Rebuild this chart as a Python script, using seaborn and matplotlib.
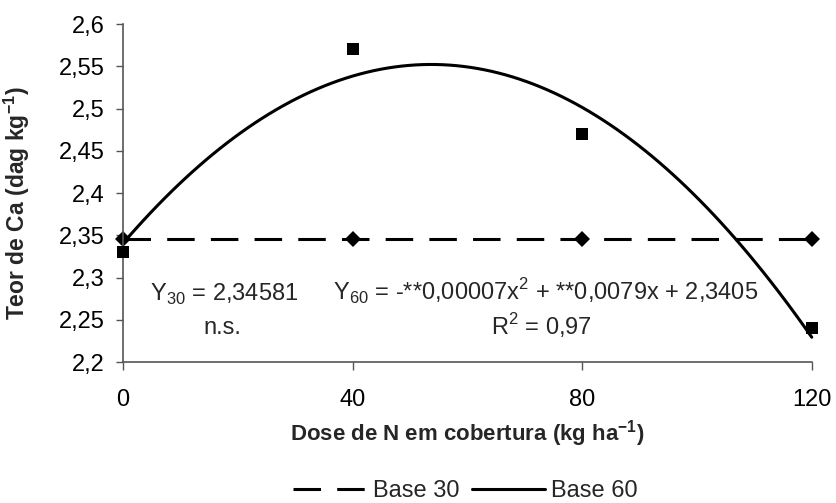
import numpy as np
import pandas as pd
import matplotlib
matplotlib.use("Agg")
import matplotlib.pyplot as plt
import seaborn as sns
from matplotlib.lines import Line2D
from matplotlib.ticker import FuncFormatter

# Nitrogen top-dressing doses (kg/ha)
doses = [0, 40, 80, 120]
# Ca content (dag/kg) for each base saturation level
base30 = [2.34581, 2.34581, 2.34581, 2.34581]
base60 = [2.33, 2.57, 2.47, 2.24]

x_ticks = [0, 40, 80, 120]
y_ticks = [2.2, 2.25, 2.3, 2.35, 2.4, 2.45, 2.5, 2.55, 2.6]

df = pd.DataFrame({"dose": doses, "b30": base30, "b60": base60})

sns.set_theme(style="white")
plt.rcParams["font.family"] = ["Liberation Sans", "DejaVu Sans"]
plt.rcParams["mathtext.fontset"] = "custom"
plt.rcParams["mathtext.rm"] = "Liberation Sans"

fig = plt.figure(figsize=(8.36, 5.03), dpi=100)
ax = fig.add_axes([0.147, 0.280, 0.824, 0.672])

axis_col = "#555555"
dash = (9, 5.3)

# Base 30: constant mean line with diamond markers
sns.lineplot(data=df, x="dose", y="b30", ax=ax, color="black", lw=2.2,
             marker="D", markersize=8.5, markeredgewidth=0, legend=False)
ax.lines[-1].set_dashes(dash)

# Base 60: observed points and quadratic trend
sns.scatterplot(data=df, x="dose", y="b60", ax=ax, color="black", marker="s",
                s=75, linewidth=0, legend=False, zorder=4)
sns.regplot(data=df, x="dose", y="b60", order=2, ci=None, scatter=False,
            ax=ax, truncate=True, line_kws={"color": "black", "lw": 2.2})

ax.set_xlim(0, 120)
ax.set_ylim(2.2, 2.6)
ax.set_xticks(x_ticks)
ax.set_yticks(y_ticks)
ax.yaxis.set_major_formatter(FuncFormatter(lambda v, p: f"{v:g}".replace(".", ",")))
ax.tick_params(axis="both", colors=axis_col, labelcolor="black",
               width=1, direction="out", bottom=True, left=True)
ax.tick_params(axis="y", labelsize=17, length=5, pad=8)
ax.tick_params(axis="x", labelsize=17, length=6, pad=13)

for side in ("top", "right"):
    ax.spines[side].set_visible(False)
for side in ("left", "bottom"):
    ax.spines[side].set_color(axis_col)
    ax.spines[side].set_linewidth(1.2)
for art in ax.lines + ax.collections:
    art.set_clip_on(False)

ax.set_xlabel("Dose de N em cobertura (kg ha$^{\\mathregular{-1}}$)", fontsize=16,
              fontweight="bold")
ax.xaxis.set_label_coords(0.5, -0.165)
ax.set_ylabel("Teor de Ca (dag kg$^{\\mathregular{-1}}$)", fontsize=16.5,
              fontweight="bold")
ax.yaxis.set_label_coords(-0.132, 0.47)

# Regression equations
txt = dict(transform=ax.transAxes, fontsize=17, va="baseline")
ax.text(0.039, 0.183, "Y$_{30}$ = 2,34581", ha="left", **txt)
ax.text(0.144, 0.083, "n.s.", ha="center", **txt)
ax.text(0.305, 0.183, "Y$_{60}$ = -**0,00007x$^{2}$ + **0,0079x + 2,3405",
        ha="left", **txt)
ax.text(0.608, 0.080, "R$^{2}$ = 0,97", ha="center", **txt)

handles = [
    Line2D([0], [0], color="black", lw=2.2, dashes=dash),
    Line2D([0], [0], color="black", lw=2.2),
]
fig.legend(handles, ["Base 30", "Base 60"], loc="center",
           bbox_to_anchor=(0.557, 0.024), ncol=2, frameon=False, fontsize=17,
           handlelength=3.1, handletextpad=0.25, columnspacing=0.55,
           borderpad=0, borderaxespad=0)

fig.savefig("out.png", dpi=100)
